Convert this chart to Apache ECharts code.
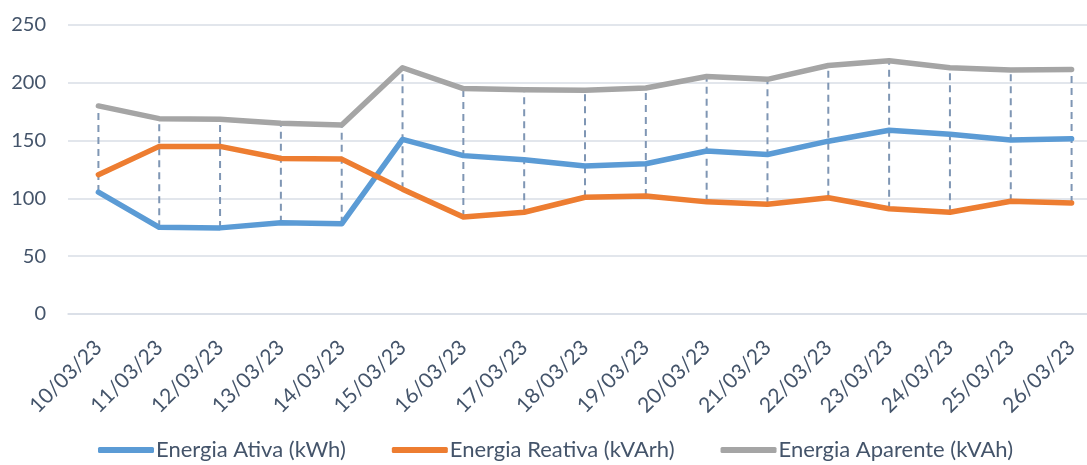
<!DOCTYPE html>
<html><head><meta charset="utf-8">
<script src="https://cdn.jsdelivr.net/npm/echarts@6/dist/echarts.min.js"></script>
<style>html,body{margin:0;padding:0;background:#fff}#c{width:1087px;height:465px}</style>
</head><body><div id="c"></div>
<script>
const categories = ['10/03/23','11/03/23','12/03/23','13/03/23','14/03/23','15/03/23','16/03/23','17/03/23','18/03/23','19/03/23','20/03/23','21/03/23','22/03/23','23/03/23','24/03/23','25/03/23','26/03/23'];
const ativa = [105.5, 75, 74.5, 79, 78, 151, 137, 133.5, 128, 130, 141, 138, 149.5, 159, 155.5, 150.5, 151.5];
const reativa = [120.5, 145, 145, 134.5, 134, 108, 84, 88, 101, 102, 97, 95, 100.5, 91, 88, 97.5, 96];
const aparente = [180, 169, 168.5, 165, 163.5, 213, 195, 194, 193.5, 195.5, 205.5, 203, 215, 219, 213, 211, 211.5];
const yTicks = [0, 50, 100, 150, 200, 250];

const font = 'Lato';
const txt = '#44546A';
const hiLo = categories.map((c, i) => {
  const v = [ativa[i], reativa[i], aparente[i]];
  return [i, Math.min(...v), Math.max(...v)];
});

const chart = echarts.init(document.getElementById('c'), null, {renderer: 'canvas'});
chart.setOption({
  animation: false,
  textStyle: {fontFamily: font},
  grid: {left: 68, width: 1034, top: 25, bottom: 151, containLabel: false, outerBoundsMode: 'none'},
  xAxis: {
    type: 'category', data: categories, boundaryGap: true,
    axisLine: {show: true, lineStyle: {color: '#D9DEE6', width: 1.5}},
    axisTick: {show: false},
    axisLabel: {rotate: 45, color: txt, fontSize: 21, fontFamily: font, margin: 30, interval: 0}
  },
  yAxis: {
    type: 'value', min: yTicks[0], max: yTicks[yTicks.length - 1], interval: 50,
    axisLine: {show: false}, axisTick: {show: false},
    axisLabel: {color: txt, fontSize: 20, fontFamily: font, margin: 22},
    splitLine: {lineStyle: {color: '#D9DEE6', width: 1.5}}
  },
  legend: {
    data: ['Energia Ativa (kWh)', 'Energia Reativa (kVArh)', 'Energia Aparente (kVAh)'],
    bottom: -1, left: 93, icon: 'roundRect', itemWidth: 56, itemHeight: 6, itemGap: 46,
    textStyle: {color: txt, fontSize: 22, fontFamily: font, padding: [0, 0, 0, -3]}
  },
  series: [
    {
      type: 'custom', name: 'hilo', z: 1, silent: true,
      data: hiLo,
      renderItem: function (params, api) {
        const p1 = api.coord([api.value(0), api.value(1)]);
        const p2 = api.coord([api.value(0), api.value(2)]);
        return {type: 'line', shape: {x1: p1[0], y1: p1[1], x2: p2[0], y2: p2[1]},
          style: {stroke: '#7F96B4', lineWidth: 2, lineDash: [7, 5]}};
      }
    },
    {name: 'Energia Ativa (kWh)', type: 'line', data: ativa, symbol: 'none', z: 3,
      itemStyle: {color: '#5B9BD5'}, lineStyle: {width: 5.5, color: '#5B9BD5', cap: 'round', join: 'round'}},
    {name: 'Energia Reativa (kVArh)', type: 'line', data: reativa, symbol: 'none', z: 3,
      itemStyle: {color: '#ED7D31'}, lineStyle: {width: 5.5, color: '#ED7D31', cap: 'round', join: 'round'}},
    {name: 'Energia Aparente (kVAh)', type: 'line', data: aparente, symbol: 'none', z: 3,
      itemStyle: {color: '#A5A5A5'}, lineStyle: {width: 5.5, color: '#A5A5A5', cap: 'round', join: 'round'}}
  ]
});
</script></body></html>
